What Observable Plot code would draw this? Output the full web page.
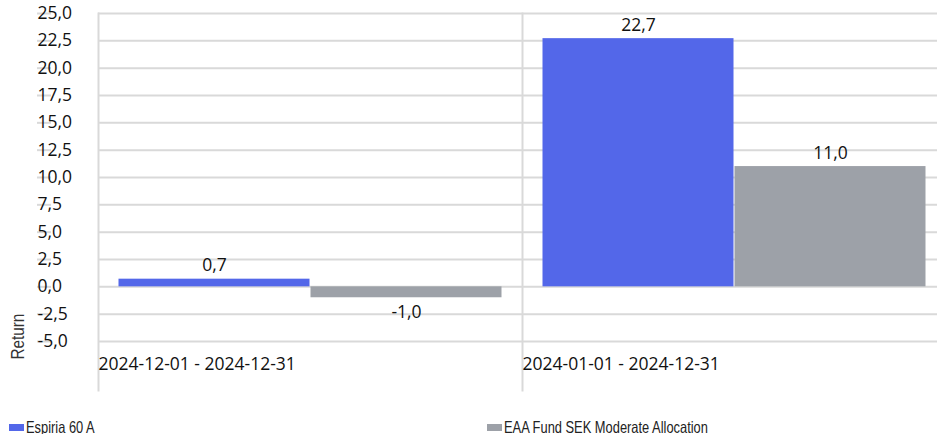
<!DOCTYPE html>
<html>
<head>
<meta charset="utf-8">
<script src="https://cdn.jsdelivr.net/npm/d3@7"></script>
<script src="https://cdn.jsdelivr.net/npm/@observablehq/plot@0.6"></script>
<style>
  body { margin: 0; background: #fff; }
  #chart svg { display: block; overflow: visible; }
  #legend { position: relative; width: 937px; height: 24px; overflow: hidden;
    font-family: "Liberation Sans", Arial, sans-serif; font-size: 16.5px; color: #222; }
  #legend .item { position: absolute; top: 0; height: 24px; }
  #legend .sw { position: absolute; top: 14px; left: 0; width: 15px; height: 7px; }
  #legend .lb { position: absolute; top: 8.5px; left: 17px; line-height: 16px; white-space: nowrap;
    transform: scaleX(0.78); transform-origin: 0 0; }
</style>
</head>
<body>
<div id="chart"></div>
<div id="legend"></div>
<script>
const categories = ["2024-12-01 - 2024-12-31", "2024-01-01 - 2024-12-31"];
const seriesNames = ["Espiria 60 A", "EAA Fund SEK Moderate Allocation"];
const espiriaValues = [0.7, 22.7];
const benchmarkValues = [-1.0, 11.0];
const yTicks = [-5, -2.5, 0, 2.5, 5, 7.5, 10, 12.5, 15, 17.5, 20, 22.5, 25];
const seriesColors = ["#5367E9", "#9DA1A8"];
const yLabel = "Return";

const data = categories.flatMap((c, i) => [
  {period: c, series: seriesNames[0], value: espiriaValues[i]},
  {period: c, series: seriesNames[1], value: benchmarkValues[i]}
]);
const fmt = v => v.toFixed(1).replace(".", ",");
const gridColor = "#d9d9d9";
const font = "'Open Sans', sans-serif";

const chart = Plot.plot({
  width: 937,
  height: 410,
  marginTop: 13,
  marginBottom: 69,
  marginLeft: 98,
  marginRight: -9,
  style: {fontFamily: font, fontSize: "17.5px", color: "#111", background: "#fff"},
  fx: {domain: categories, padding: 0, axis: null, label: null},
  x: {domain: seriesNames, paddingInner: 0, paddingOuter: 0.1, axis: null},
  y: {domain: [-5, 25], axis: null},
  color: {domain: seriesNames, range: seriesColors},
  marks: [
    Plot.gridY(yTicks, {stroke: gridColor, strokeOpacity: 1, strokeWidth: 2}),
    Plot.frame({anchor: "left", stroke: gridColor, strokeWidth: 2, insetBottom: -49}),
    Plot.axisY({ticks: yTicks, tickFormat: fmt, tickSize: 14, tickPadding: 0, stroke: gridColor, strokeWidth: 2,
      textAnchor: "start", dx: -47, fill: "#111", label: null, fontSize: 17.5}),
    Plot.barY(data, {fx: "period", x: "series", y: "value", fill: "series", insetLeft: 0.5, insetRight: 0.5}),
    Plot.text(data.filter(d => d.value >= 0), {fx: "period", x: "series", y: "value", text: d => fmt(d.value),
      lineAnchor: "bottom", dy: -8, fill: "#111"}),
    Plot.text(data.filter(d => d.value < 0), {fx: "period", x: "series", y: "value", text: d => fmt(d.value),
      lineAnchor: "top", dy: 8, fill: "#111"}),
    Plot.text(categories, {fx: d => d, text: d => d, frameAnchor: "bottom-left", textAnchor: "start", dy: 28, fill: "#111"}),
    Plot.text([yLabel], {facet: "super", frameAnchor: "bottom-left", rotate: -90, textAnchor: "start",
      dx: -75, dy: 18, fontFamily: "'Liberation Sans', Arial, sans-serif", fontSize: 18, fill: "#333",
      className: "ylabel"})
  ]
});
// condense the y label like a narrow face
d3.select(chart).selectAll(".ylabel text").attr("transform", function () {
  const t = this.getAttribute("transform") || "";
  return t + " scale(0.85,1)";
});
document.getElementById("chart").appendChild(chart);

const legend = document.getElementById("legend");
const legendX = [9, 487];
seriesNames.forEach((name, i) => {
  const item = document.createElement("div");
  item.className = "item";
  item.style.left = legendX[i] + "px";
  const sw = document.createElement("div");
  sw.className = "sw";
  sw.style.background = seriesColors[i];
  const lb = document.createElement("div");
  lb.className = "lb";
  lb.textContent = name;
  item.appendChild(sw);
  item.appendChild(lb);
  legend.appendChild(item);
});
</script>
</body>
</html>
